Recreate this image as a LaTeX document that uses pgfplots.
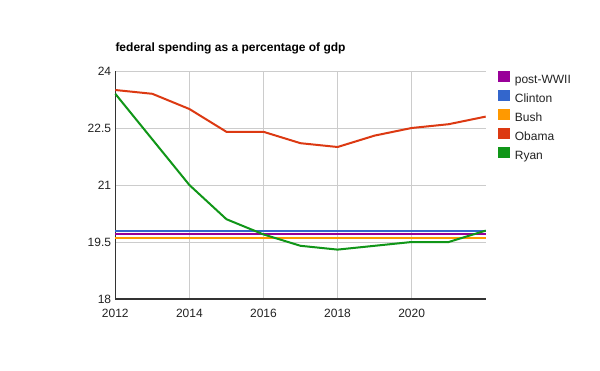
\documentclass[border=0pt]{standalone}
\usepackage{pgfplots}
\pgfplotsset{compat=1.18}
\usepackage{fontspec}
\setmainfont{Liberation Sans}
\definecolor{cpost}{HTML}{990099}
\definecolor{cclin}{HTML}{3366CC}
\definecolor{cbush}{HTML}{FF9900}
\definecolor{cobama}{HTML}{DC3912}
\definecolor{cryan}{HTML}{109618}
\definecolor{cgrid}{HTML}{CCCCCC}
\definecolor{caxis}{HTML}{333333}
\definecolor{ctext}{HTML}{222222}
\begin{document}
\begin{tikzpicture}[x=1pt,y=1pt]
\path[use as bounding box, fill=white] (0,0) rectangle (600,370);
\node[anchor=base west, inner sep=0pt, font=\bfseries\fontsize{12}{14}\selectfont] at (115.3,318.5) {federal spending as a percentage of gdp};
\begin{axis}[
  at={(115.3pt,71pt)}, anchor=south west,
  scale only axis, width=370.4pt, height=228pt,
  xmin=2012, xmax=2022, ymin=18, ymax=24,
  xtick={2012,2014,2016,2018,2020},
  xticklabels={2012,2014,2016,2018,2020},
  ytick={18,19.5,21,22.5,24},
  yticklabels={18,19.5,21,22.5,24},
  major tick length=0pt,
  grid=major,
  grid style={cgrid, line width=1pt},
  axis x line*=bottom, axis y line*=left,
  axis line style={-, caxis, line width=1.2pt},
  tick label style={font=\fontsize{12}{14}\selectfont, text=ctext},
  xticklabel style={inner sep=0pt, anchor=north, yshift=-9.5pt},
  yticklabel style={inner sep=0pt, anchor=east, xshift=-4pt},
  clip=false,
  legend cell align=left,
  legend image code/.code={\fill[#1, draw=none] (0pt,-1.5pt) rectangle (11.5pt,10pt);},
  legend style={at={(1,1)}, anchor=north west, xshift=12.5pt, yshift=0.5pt, draw=none, fill=none,
    inner sep=0pt, row sep=3pt, column sep=5pt,
    font=\fontsize{12}{14}\selectfont, text=ctext,
    nodes={inner sep=0pt, text height=9pt, text depth=3pt}},
]
\addplot[cpost, line width=2pt] coordinates {(2012,19.7) (2022,19.7)};
\addlegendentry{post-WWII}
\addplot[cclin, line width=2pt] coordinates {(2012,19.8) (2022,19.8)};
\addlegendentry{Clinton}
\addplot[cbush, line width=2pt] coordinates {(2012,19.6) (2022,19.6)};
\addlegendentry{Bush}
\addplot[cobama, line width=2pt] coordinates {
(2012,23.5) (2013,23.4) (2014,23.0) (2015,22.4) (2016,22.4) (2017,22.1)
(2018,22.0) (2019,22.3) (2020,22.5) (2021,22.6) (2022,22.8)};
\addlegendentry{Obama}
\addplot[cryan, line width=2pt] coordinates {
(2012,23.4) (2013,22.2) (2014,21.0) (2015,20.1) (2016,19.7) (2017,19.4)
(2018,19.3) (2019,19.4) (2020,19.5) (2021,19.5) (2022,19.8)};
\addlegendentry{Ryan}
\end{axis}
\end{tikzpicture}
\end{document}
